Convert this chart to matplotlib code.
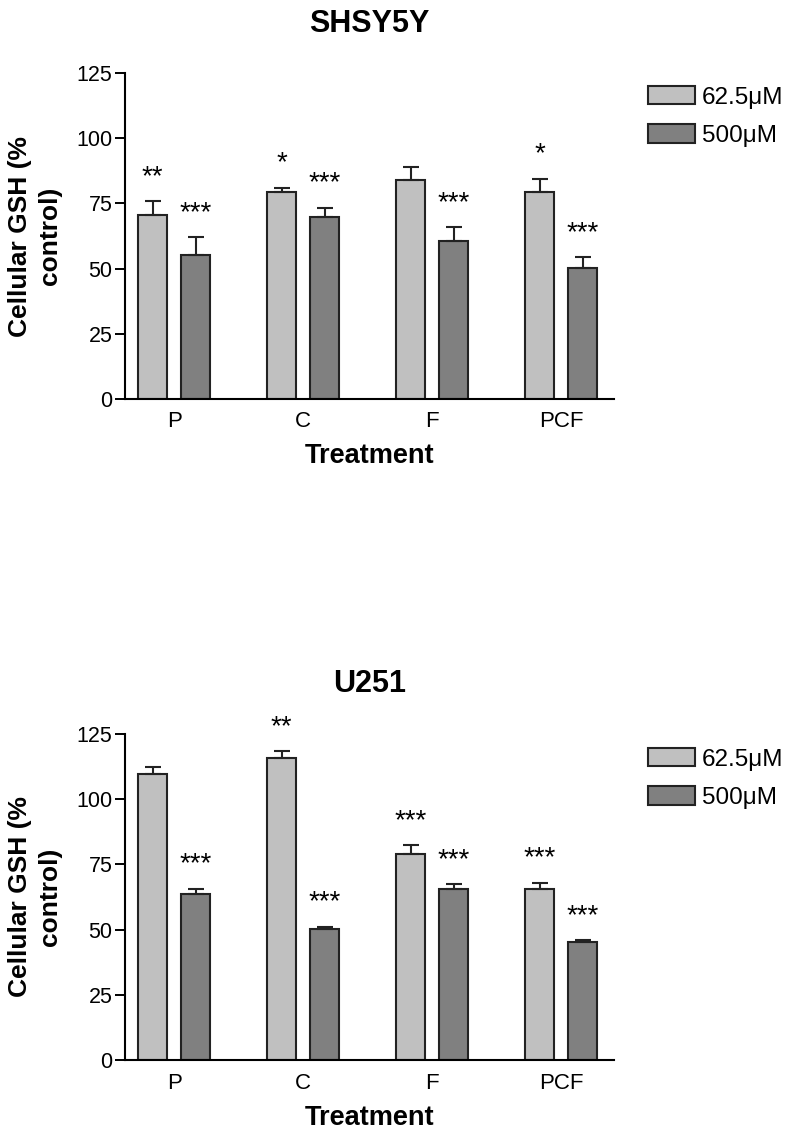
import numpy as np
import matplotlib
matplotlib.use("Agg")
import matplotlib.pyplot as plt

plt.rcParams['font.family'] = ['Liberation Sans', 'DejaVu Sans']

treatments = ["P", "C", "F", "PCF"]
doses = ["62.5\u03bcM", "500\u03bcM"]

# SHSY5Y
shsy_low = [70.6, 79.5, 84.0, 79.3]
shsy_low_err = [5.2, 1.6, 5.1, 5.2]
shsy_high = [55.2, 69.7, 60.6, 50.1]
shsy_high_err = [6.8, 3.7, 5.2, 4.2]
shsy_low_sig = ["**", "*", "", "*"]
shsy_high_sig = ["***", "***", "***", "***"]

# U251
u251_low = [109.7, 115.9, 79.0, 65.6]
u251_low_err = [2.5, 2.5, 3.3, 2.4]
u251_high = [63.5, 50.2, 65.6, 45.1]
u251_high_err = [2.2, 0.9, 1.9, 0.9]
u251_low_sig = ["", "**", "***", "***"]
u251_high_sig = ["***", "***", "***", "***"]

light = "#c0c0c0"
dark = "#808080"

fig = plt.figure(figsize=(7.96, 11.32), dpi=100)


def draw_panel(rect, title, low, low_err, high, high_err, low_sig, high_sig, leg_y):
    ax = fig.add_axes(rect)
    x = np.arange(len(treatments))
    w = 0.225
    off = 0.1675
    ekw = dict(elinewidth=1.5, capthick=1.5, ecolor="#222222")
    ax.bar(x - off, low, w, color=light, edgecolor="#222222", linewidth=1.5,
           yerr=[np.zeros(4), low_err], capsize=5.5, error_kw=ekw, label=doses[0], zorder=2)
    ax.bar(x + off, high, w, color=dark, edgecolor="#222222", linewidth=1.5,
           yerr=[np.zeros(4), high_err], capsize=5.5, error_kw=ekw, label=doses[1], zorder=2)
    # significance stars above the error bars
    for i in range(len(treatments)):
        if low_sig[i]:
            ax.annotate(low_sig[i], (x[i] - off, low[i] + low_err[i]), xytext=(0, 8),
                        textcoords="offset points", ha="center", va="bottom", fontsize=20)
        if high_sig[i]:
            ax.annotate(high_sig[i], (x[i] + off, high[i] + high_err[i]), xytext=(0, 8),
                        textcoords="offset points", ha="center", va="bottom", fontsize=20)
    ax.set_xlim(-0.382, 3.41)
    ax.set_ylim(0, 125)
    ax.set_yticks([0, 25, 50, 75, 100, 125])
    ax.set_xticks(x)
    ax.set_xticklabels(treatments)
    ax.tick_params(axis="y", length=7, width=1.4, labelsize=15.5, pad=2)
    ax.tick_params(axis="x", length=0, labelsize=16, pad=9)
    for s in ["top", "right"]:
        ax.spines[s].set_visible(False)
    for s in ["left", "bottom"]:
        ax.spines[s].set_linewidth(1.5)
    ax.set_title(title, fontsize=22, fontweight="bold", pad=30)
    ax.set_xlabel("Treatment", fontsize=19.5, fontweight="bold", labelpad=8)
    ax.set_ylabel("Cellular GSH (%\ncontrol)", fontsize=19, fontweight="bold", labelpad=10,
                  linespacing=1.35)
    ax.legend(loc="upper left", bbox_to_anchor=(648 / 796, leg_y), bbox_transform=fig.transFigure,
              frameon=False, fontsize=17.5, handlelength=1.93, handleheight=0.78,
              handletextpad=0.28, labelspacing=0.65, borderpad=0, borderaxespad=0)
    return ax


draw_panel([0.157, 0.6478, 0.6145, 0.2874], "SHSY5Y", shsy_low, shsy_low_err,
           shsy_high, shsy_high_err, shsy_low_sig, shsy_high_sig, 1 - 86 / 1132)
draw_panel([0.157, 0.0636, 0.6145, 0.288], "U251", u251_low, u251_low_err,
           u251_high, u251_high_err, u251_low_sig, u251_high_sig, 1 - 748 / 1132)

fig.savefig("out.png", dpi=100)
